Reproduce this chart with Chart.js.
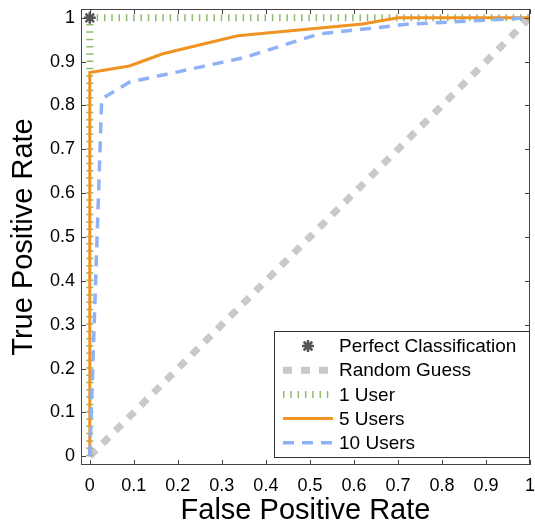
<!DOCTYPE html>
<html>
<head>
<meta charset="utf-8">
<script src="https://cdn.jsdelivr.net/npm/chart.js@4.4.1/dist/chart.umd.min.js"></script>
<style>
html, body { margin: 0; padding: 0; background: #fff; }
#wrap { width: 535px; height: 521px; }
</style>
</head>
<body>
<div id="wrap"><canvas id="rocChart" width="535" height="521"></canvas></div>
<script>
// tick values shared by both axes
var rateTicks = [0, 0.1, 0.2, 0.3, 0.4, 0.5, 0.6, 0.7, 0.8, 0.9, 1];

// ROC curves
var perfectFpr = [0];
var perfectTpr = [1];
var guessFpr = [0, 1];
var guessTpr = [0, 1];
var oneUserFpr = [0, 0, 1];
var oneUserTpr = [0, 1, 1];
var fiveUsersFpr = [0, 0, 0.09, 0.166, 0.336, 0.62, 0.70, 1];
var fiveUsersTpr = [0, 0.875, 0.89, 0.918, 0.959, 0.986, 1, 1];
var tenUsersFpr = [0, 0.027, 0.09, 0.35, 0.52, 0.72, 1];
var tenUsersTpr = [0, 0.815, 0.853, 0.909, 0.963, 0.985, 1];

var fontFamily = "'Liberation Sans', Arial, Helvetica, sans-serif";

function toPoints(xs, ys) {
    return xs.map(function (x, i) {
        return { x: x, y: ys[i] };
    });
}

// matlab style box with inward ticks on all four sides
var boxTicks = {
    id: 'boxTicks',
    afterDraw: function (chart) {
        var ctx = chart.ctx;
        var area = chart.chartArea;
        var xs = chart.scales.x;
        var ys = chart.scales.y;
        var len = 5;
        ctx.save();
        ctx.strokeStyle = '#444';
        ctx.lineWidth = 1;
        ctx.strokeRect(area.left + 0.5, area.top + 0.5, area.right - area.left - 1, area.bottom - area.top - 1);
        ctx.beginPath();
        rateTicks.forEach(function (v) {
            var px = Math.round(xs.getPixelForValue(v)) + 0.5;
            ctx.moveTo(px, area.bottom);
            ctx.lineTo(px, area.bottom - len);
            ctx.moveTo(px, area.top);
            ctx.lineTo(px, area.top + len);
            var py = Math.round(ys.getPixelForValue(v)) + 0.5;
            ctx.moveTo(area.left, py);
            ctx.lineTo(area.left + len, py);
            ctx.moveTo(area.right, py);
            ctx.lineTo(area.right - len, py);
        });
        ctx.stroke();
        ctx.restore();
    }
};

// legend box in the lower right corner of the plot
var boxLegend = {
    id: 'boxLegend',
    afterDraw: function (chart) {
        var ctx = chart.ctx;
        var area = chart.chartArea;
        var w = 255, h = 126, rowH = 24.2;
        var left = area.right - 1 - w;
        var top = area.bottom - 8 - h;
        var order = [0, 1, 2, 3, 4];
        ctx.save();
        ctx.fillStyle = '#fff';
        ctx.fillRect(left, top, w, h);
        ctx.strokeStyle = '#333';
        ctx.lineWidth = 1;
        ctx.strokeRect(Math.round(left) + 0.5, Math.round(top) + 0.5, w, h);
        order.forEach(function (idx, row) {
            var ds = chart.data.datasets[idx];
            var y = top + 15 + row * rowH;
            var x0 = left + 9, x1 = left + 59;
            if (ds.showLine === false) {
                Chart.helpers.drawPoint(ctx, {
                    pointStyle: ds.pointStyle,
                    radius: ds.pointRadius,
                    rotation: 0,
                    borderWidth: ds.pointBorderWidth
                }, (x0 + x1) / 2, y);
                ctx.strokeStyle = ds.pointBorderColor;
                ctx.lineWidth = ds.pointBorderWidth;
                ctx.stroke();
            } else {
                ctx.beginPath();
                ctx.setLineDash(ds.borderDash || []);
                ctx.strokeStyle = ds.borderColor;
                ctx.lineWidth = ds.borderWidth;
                ctx.moveTo(x0, y);
                ctx.lineTo(x1, y);
                ctx.stroke();
                ctx.setLineDash([]);
            }
            ctx.fillStyle = '#000';
            ctx.font = '19px ' + fontFamily;
            ctx.textBaseline = 'middle';
            ctx.textAlign = 'left';
            ctx.fillText(ds.label, left + 65, y + 1);
        });
        ctx.restore();
    }
};

var rocConfig = {
    type: 'scatter',
    data: {
        datasets: [
            {
                label: 'Perfect Classification',
                data: toPoints(perfectFpr, perfectTpr),
                showLine: false,
                pointStyle: 'star',
                pointRadius: 6,
                pointBorderColor: '#555',
                pointBackgroundColor: '#555',
                pointBorderWidth: 2.5,
                order: 0
            },
            {
                label: 'Random Guess',
                data: toPoints(guessFpr, guessTpr),
                showLine: true,
                borderColor: '#c9c9c9',
                borderWidth: 7,
                borderDash: [9, 9],
                pointRadius: 0,
                order: 4
            },
            {
                label: '1 User',
                data: toPoints(oneUserFpr, oneUserTpr),
                showLine: true,
                borderColor: '#8dbb6c',
                borderWidth: 7,
                borderDash: [1.5, 5.8],
                pointRadius: 0,
                order: 3
            },
            {
                label: '5 Users',
                data: toPoints(fiveUsersFpr, fiveUsersTpr),
                showLine: true,
                borderColor: '#ef9323',
                borderWidth: 3,
                pointRadius: 0,
                order: 2
            },
            {
                label: '10 Users',
                data: toPoints(tenUsersFpr, tenUsersTpr),
                showLine: true,
                borderColor: '#8fb1f6',
                borderWidth: 3.5,
                borderDash: [11, 8],
                pointRadius: 0,
                order: 1
            }
        ]
    },
    options: {
        responsive: false,
        animation: false,
        layout: { autoPadding: false, padding: { top: 9, right: 5, left: 0, bottom: 0 } },
        plugins: {
            legend: { display: false },
            tooltip: { enabled: false }
        },
        scales: {
            x: {
                type: 'linear',
                min: -0.02,
                max: 1,
                grid: { display: false, drawTicks: false },
                border: { display: false },
                afterBuildTicks: function (s) {
                    s.ticks = rateTicks.map(function (v) { return { value: v }; });
                },
                afterFit: function (s) {
                    s.height = 56;
                    s.paddingLeft = 0;
                    s.paddingRight = 0;
                },
                ticks: {
                    padding: 10,
                    color: '#000',
                    maxRotation: 0,
                    autoSkip: false,
                    font: { family: fontFamily, size: 18 },
                    callback: function (v) { return String(v); }
                },
                title: {
                    display: true,
                    text: 'False Positive Rate',
                    color: '#000',
                    font: { family: fontFamily, size: 29, lineHeight: 1 },
                    padding: { top: 0, bottom: -4 }
                }
            },
            y: {
                type: 'linear',
                min: -0.02,
                max: 1.02,
                grid: { display: false, drawTicks: false },
                border: { display: false },
                afterBuildTicks: function (s) {
                    s.ticks = rateTicks.map(function (v) { return { value: v }; });
                },
                afterFit: function (s) {
                    s.width = 81;
                    s.paddingTop = 0;
                    s.paddingBottom = 0;
                },
                ticks: {
                    padding: 6,
                    color: '#000',
                    autoSkip: false,
                    font: { family: fontFamily, size: 18 },
                    callback: function (v) { return String(v); }
                },
                title: {
                    display: true,
                    text: 'True Positive Rate',
                    color: '#000',
                    font: { family: fontFamily, size: 29, lineHeight: 1 },
                    padding: { top: 9, bottom: 0 }
                }
            }
        }
    },
    plugins: [boxTicks, boxLegend]
};

var rocChart = new Chart(document.getElementById('rocChart').getContext('2d'), rocConfig);
</script>
</body>
</html>
